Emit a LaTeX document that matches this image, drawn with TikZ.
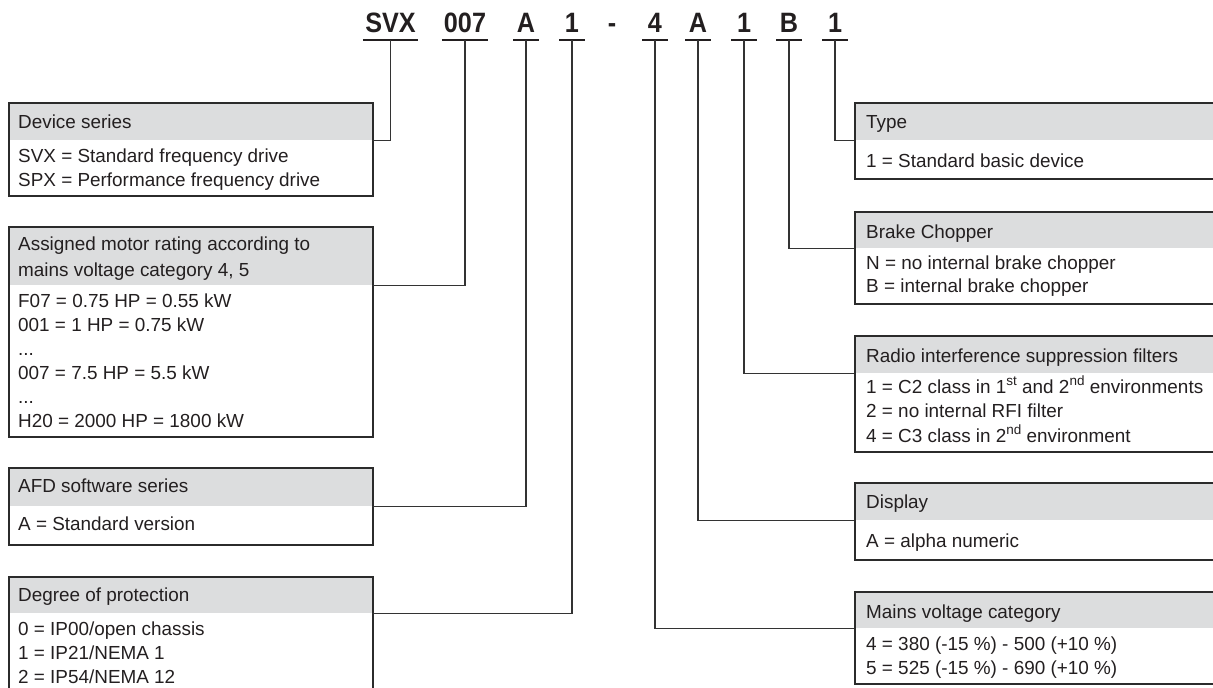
\documentclass[tikz,border=0pt]{standalone}
\usepackage{fontspec}
\setmainfont{Liberation Sans}
\newfontfamily\codefont{Liberation Sans}[FakeStretch=0.9]
\newcommand\bodyfs{\fontsize{18.9pt}{23.7pt}\selectfont}
\newcommand\mysup[1]{\raisebox{0.42em}{\fontsize{13.5pt}{14pt}\selectfont #1}}
\definecolor{txtc}{HTML}{231F20}
\definecolor{boxc}{HTML}{2B2B2B}
\definecolor{hdrc}{HTML}{DCDDDE}
\definecolor{linec}{HTML}{333333}
\tikzset{
  boxframe/.style={draw=boxc, line width=1.8pt, inner sep=0pt, anchor=north west},
  hdrband/.style={fill=hdrc, draw=none, inner sep=0pt, anchor=north west},
  txt/.style={anchor=base west, inner sep=0pt, font=\bodyfs, text=txtc},
  codechar/.style={anchor=south, inner xsep=0pt, inner ysep=7pt, text depth=0pt, font=\codefont\bfseries\fontsize{28pt}{30pt}\selectfont, text=txtc},
  uline/.style={draw=txtc, line width=1.5pt},
  conn/.style={draw=linec, line width=1.2pt},
}
\begin{document}
\begin{tikzpicture}[x=1pt,y=-1pt]
\useasboundingbox (0,0) rectangle (1213,688);
\clip (0,0) rectangle (1213,688);

% ---- type code ----
\node[codechar, minimum width=55pt] (cSVX) at (390.5,40) {SVX};
\node[codechar, minimum width=46pt] (c007) at (465,40) {007};
\node[codechar, minimum width=25pt] (cA1) at (526,40) {A};
\node[codechar, minimum width=25pt] (cOne1) at (572,40) {1};
\node[codechar] (cdash) at (612,40) {-};
\node[codechar, minimum width=25pt] (cFour) at (655,40) {4};
\node[codechar, minimum width=25pt] (cA2) at (698,40) {A};
\node[codechar, minimum width=25pt] (cOne2) at (744,40) {1};
\node[codechar, minimum width=25pt] (cB) at (789,40) {B};
\node[codechar, minimum width=25pt] (cOne3) at (835,40) {1};
\foreach \n in {cSVX,c007,cA1,cOne1,cFour,cA2,cOne2,cB,cOne3}
  \draw[uline] (\n.south west) -- (\n.south east);

% ---- left boxes ----
% Device series
\node[hdrband, minimum width=364pt, minimum height=38pt] (devh) at (8,102) {};
\node[boxframe, minimum width=364pt, minimum height=93pt] (dev) at (8,102) {};
\node[txt] (devt) at (18,128.5) {Device series};
\node[txt] (dev1) at (18,162) {SVX = Standard frequency drive};
\node[txt] (dev2) at (18,186) {SPX = Performance frequency drive};

% Assigned motor rating
\node[hdrband, minimum width=364pt, minimum height=59pt] (assh) at (8,226) {};
\node[boxframe, minimum width=364pt, minimum height=210pt] (ass) at (8,226) {};
\node[txt] (asst1) at (18,250.7) {Assigned motor rating according to};
\node[txt] (asst2) at (18,276) {mains voltage category 4, 5};
\node[txt] (ass1) at (18,307) {F07 = 0.75 HP = 0.55 kW};
\node[txt] (ass2) at (18,331) {001 = 1 HP = 0.75 kW};
\node[txt] (ass3) at (18,355) {...};
\node[txt] (ass4) at (18,379) {007 = 7.5 HP = 5.5 kW};
\node[txt] (ass5) at (18,403) {...};
\node[txt] (ass6) at (18,427) {H20 = 2000 HP = 1800 kW};

% AFD software series
\node[hdrband, minimum width=364pt, minimum height=39pt] (afdh) at (8,467) {};
\node[boxframe, minimum width=364pt, minimum height=77pt] (afd) at (8,467) {};
\node[txt] (afdt) at (18,492.5) {AFD software series};
\node[txt] (afd1) at (18,530) {A = Standard version};

% Degree of protection
\node[hdrband, minimum width=364pt, minimum height=37pt] (degh) at (8,576) {};
\node[boxframe, minimum width=364pt, minimum height=140pt] (deg) at (8,576) {};
\node[txt] (degt) at (18,601.5) {Degree of protection};
\node[txt] (deg1) at (18,635) {0 = IP00/open chassis};
\node[txt] (deg2) at (18,659) {1 = IP21/NEMA 1};
\node[txt] (deg3) at (18,683) {2 = IP54/NEMA 12};

% ---- right boxes ----
% Type
\node[hdrband, minimum width=400pt, minimum height=38pt] (typh) at (854,102) {};
\node[boxframe, minimum width=400pt, minimum height=76pt] (typ) at (854,102) {};
\node[txt] (typt) at (866,128.5) {Type};
\node[txt] (typ1) at (866,167) {1 = Standard basic device};

% Brake Chopper
\node[hdrband, minimum width=400pt, minimum height=37pt] (brkh) at (854,211) {};
\node[boxframe, minimum width=400pt, minimum height=92pt] (brk) at (854,211) {};
\node[txt] (brkt) at (866,238.5) {Brake Chopper};
\node[txt] (brk1) at (866,269) {N = no internal brake chopper};
\node[txt] (brk2) at (866,292.5) {B = internal brake chopper};

% Radio interference suppression filters
\node[hdrband, minimum width=400pt, minimum height=38pt] (radh) at (854,335) {};
\node[boxframe, minimum width=400pt, minimum height=116pt] (rad) at (854,335) {};
\node[txt] (radt) at (866,362.5) {Radio interference suppression filters};
\node[txt] (rad1) at (866,393) {1 = C2 class in 1\mysup{st} and 2\mysup{nd} environments};
\node[txt] (rad2) at (866,417) {2 = no internal RFI filter};
\node[txt] (rad3) at (866,442) {4 = C3 class in 2\mysup{nd} environment};

% Display
\node[hdrband, minimum width=400pt, minimum height=38pt] (dsph) at (854,482) {};
\node[boxframe, minimum width=400pt, minimum height=77pt] (dsp) at (854,482) {};
\node[txt] (dspt) at (866,508) {Display};
\node[txt] (dsp1) at (866,547.5) {A = alpha numeric};

% Mains voltage category
\node[hdrband, minimum width=400pt, minimum height=37pt] (mnsh) at (854,591) {};
\node[boxframe, minimum width=400pt, minimum height=92pt] (mns) at (854,591) {};
\node[txt] (mnst) at (866,618) {Mains voltage category};
\node[txt] (mns1) at (866,650) {4 = 380 (-15 \%) - 500 (+10 \%)};
\node[txt] (mns2) at (866,674) {5 = 525 (-15 \%) - 690 (+10 \%)};

% ---- connectors ----
\draw[conn] (cSVX.south) |- (devh.south east);
\draw[conn] (c007.south) |- (assh.south east);
\draw[conn] (cA1.south) |- (afdh.south east);
\draw[conn] (cOne1.south) |- (degh.south east);
\draw[conn] (cFour.south) |- (mnsh.south west);
\draw[conn] (cA2.south) |- (dsph.south west);
\draw[conn] (cOne2.south) |- (radh.south west);
\draw[conn] (cB.south) |- (brkh.south west);
\draw[conn] (cOne3.south) |- (typh.south west);
\end{tikzpicture}
\end{document}
